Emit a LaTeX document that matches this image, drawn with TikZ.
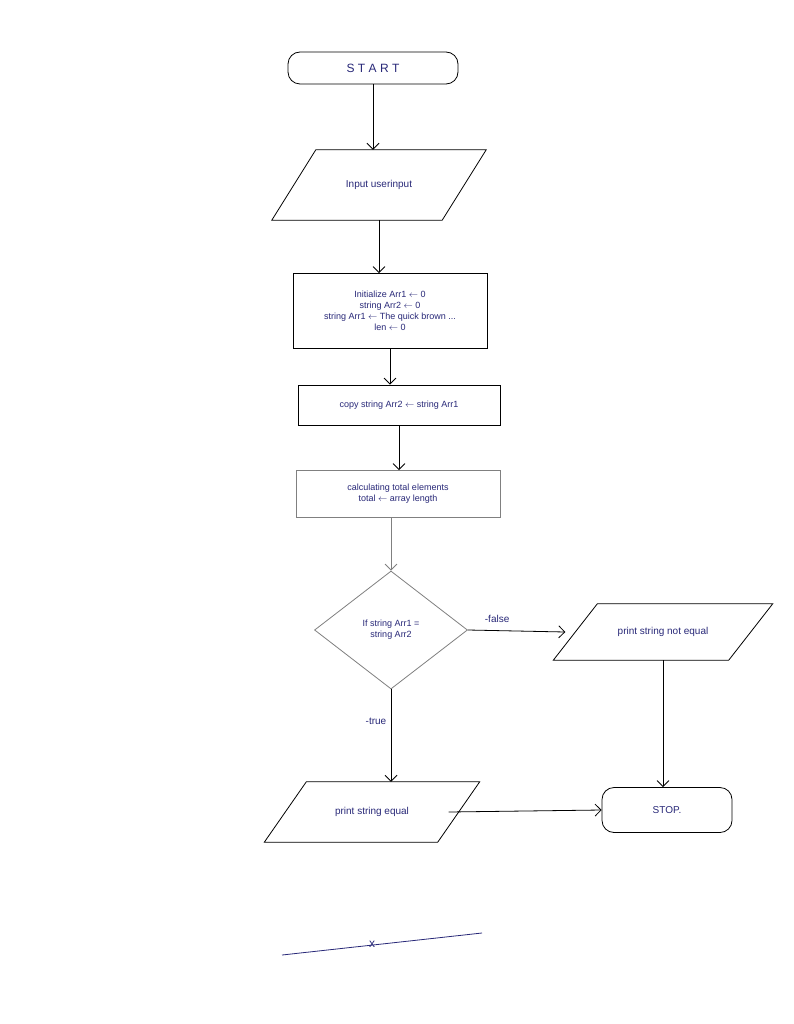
\documentclass[tikz,border=0pt]{standalone}
\usepackage{fontspec}
\setmainfont{Liberation Sans}
\usetikzlibrary{shapes.geometric,arrows.meta}
\definecolor{ink}{RGB}{40,40,120}
\begin{document}
\begin{tikzpicture}[x=1pt,y=-1pt,
  every node/.style={text=ink,font=\normalsize,align=center},
  term/.style={draw,rounded corners=12pt,thick},
  io/.style={inner sep=2pt},
  proc/.style={draw,thick},
  dec/.style={draw,diamond,gray,thick,aspect=1.3,inner sep=0pt},
  arr/.style={-{Straight Barb[length=6pt]},thick}]
\useasboundingbox[fill=white] (0,0) rectangle (794,1024);
\newcommand\para[2]{\draw[thick] ([xshift=-#2pt]#1.south west) -- ([xshift=#2pt]#1.north west) -- ([xshift=#2pt]#1.north east) -- ([xshift=-#2pt]#1.south east) -- cycle;}
\node[term,minimum width=170pt,minimum height=32pt,font=\large] (start) at (373,68) {S T A R T};
\node[io,minimum width=170pt,minimum height=70pt] (in) at (379,185) {Input userinput};
\para{in}{22}
\node[proc,minimum width=194pt,minimum height=75pt,inner sep=1pt,font=\small] (init) at (390,311) {Initialize Arr1 $\leftarrow$ 0\\string Arr2 $\leftarrow$ 0\\string Arr1 $\leftarrow$ The quick brown ...\\len $\leftarrow$ 0};
\node[proc,minimum width=202pt,minimum height=40pt,font=\small] (copy) at (399,405) {copy string Arr2 $\leftarrow$ string Arr1};
\node[proc,gray,minimum width=204pt,minimum height=47pt,text=ink,font=\small] (calc) at (398,494) {\textcolor{ink}{calculating total elements}\\\textcolor{ink}{total $\leftarrow$ array length}};
\node[dec,minimum width=153pt,minimum height=118pt] (dec) at (391,630) {};
\node[font=\small] at (391,630) {If string Arr1 =\\string Arr2};
\node[io,minimum width=175pt,minimum height=56pt] (ne) at (663,632) {print string not equal};
\para{ne}{22}
\node[io,minimum width=173pt,minimum height=60pt] (eq) at (372,812) {print string equal};
\para{eq}{21}
\node[term,minimum width=130pt,minimum height=45pt] (stop) at (667,810) {STOP.};
\draw[arr] (start.south) -- (start.south |- in.north);
\draw[arr] (in.south) -- (in.south |- init.north);
\draw[arr] (init.south) -- (init.south |- copy.north);
\draw[arr] (copy.south) -- (copy.south |- calc.north);
\draw[arr,gray] (calc.south -| dec.north) -- (dec.north);
\draw[arr] (dec.east) -- ([xshift=-10pt]ne.west) node[pos=0.3,above=4pt] {-false};
\draw[arr] (dec.south) -- (dec.south |- eq.north) node[pos=0.35,left=1pt] {-true};
\draw[arr] (ne.south) -- (ne.south |- stop.north);
\draw[arr] ([xshift=-10pt]eq.east) -- (stop.west);
\coordinate (s1) at (282,955); \coordinate (s2) at (482,933);
\draw[thick,ink] (s1) -- (s2);
\node[font=\large] (x) at (372,944) {x};
\end{tikzpicture}
\end{document}
